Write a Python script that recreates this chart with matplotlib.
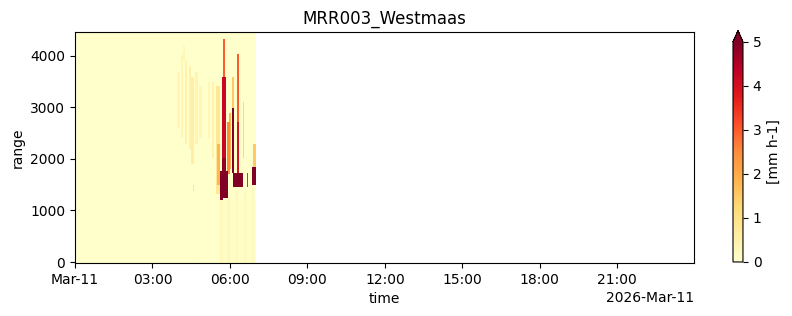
import numpy as np
import matplotlib
matplotlib.use('Agg')
import matplotlib.pyplot as plt
import matplotlib.dates as mdates

# rain features: start/end hour, bottom/top range [m], rate [mm h-1]
feat_t0 = [3.95, 4.10, 4.25, 4.40, 4.50, 4.65, 4.80, 4.20,
           4.55, 4.57,
           5.15, 5.30, 5.45, 5.50,
           5.73, 5.70, 5.70, 5.62, 5.62, 5.90, 5.95,
           6.08, 6.08, 6.12, 6.28, 6.28, 6.30,
           6.65, 6.85, 6.88, 6.50,
           5.50, 5.60, 5.90, 6.20, 6.55, 6.85]
feat_t1 = [4.05, 4.20, 4.35, 4.50, 4.60, 4.75, 4.90, 4.25,
           4.62, 4.60,
           5.22, 5.38, 5.62, 5.62,
           5.82, 5.85, 5.85, 5.93, 5.75, 5.98, 6.05,
           6.16, 6.16, 6.51, 6.36, 6.36, 6.34,
           6.70, 7.00, 7.00, 6.55,
           7.00, 5.75, 6.00, 6.30, 6.65, 6.95]
feat_r0 = [2600, 2400, 2300, 2200, 1900, 2300, 2400, 3900,
           1380, 0,
           2400, 2000, 1300, 1500,
           3600, 2000, 1500, 1250, 1200, 1700, 1800,
           1750, 3000, 1450, 2700, 1750, 3500,
           1450, 1480, 1830, 2000,
           0, 0, 0, 0, 0, 0]
feat_r1 = [3700, 4000, 3900, 3800, 3600, 3700, 3400, 4200,
           1480, 1380,
           3500, 3500, 3400, 2300,
           4330, 3600, 2000, 1780, 1300, 2700, 2900,
           3000, 3600, 1740, 4060, 2700, 4060,
           1720, 1830, 2300, 3100,
           1200, 1200, 1250, 1400, 1400, 1450]
feat_rate = [0.3, 0.35, 0.45, 0.5, 0.6, 0.4, 0.3, 0.3,
             0.9, 0.1,
             0.3, 0.45, 0.8, 1.8,
             3.0, 4.2, 4.8, 6.0, 6.0, 2.5, 1.8,
             5.0, 1.5, 6.0, 3.0, 4.0, 1.0,
             3.5, 6.0, 1.5, 1.2,
             0.08, 0.2, 0.25, 0.2, 0.2, 0.25]

base = np.datetime64('2026-03-11T00:00')
minutes = np.arange(0, 421)  # time edges, 1 min steps up to 07:00
t_edges = base + minutes.astype('timedelta64[m]')
r_edges = np.arange(129) * 35.0 - 17.5

t_mid = (minutes[:-1] + 0.5) / 60.0
r_mid = r_edges[:-1] + 17.5
rr = np.zeros((len(r_mid), len(t_mid)))
for i in range(len(feat_rate)):
    tm = (t_mid >= feat_t0[i]) & (t_mid < feat_t1[i])
    rm = (r_mid >= feat_r0[i]) & (r_mid < feat_r1[i])
    rr[np.ix_(rm, tm)] = np.maximum(rr[np.ix_(rm, tm)], feat_rate[i])

fig = plt.figure(figsize=(7.92, 3.16), dpi=100)
ax = fig.add_axes([0.0947, 0.168, 0.782, 0.731])
cax = fig.add_axes([0.9255, 0.171, 0.0126, 0.732])

mesh = ax.pcolormesh(t_edges, r_edges, rr, cmap='YlOrRd', vmin=0, vmax=5)
ax.set_xlim(base, base + np.timedelta64(24 * 60 - 1, 'm'))
ax.set_ylim(r_edges[0], r_edges[-1])

loc = mdates.HourLocator(interval=3)
ax.xaxis.set_major_locator(loc)
ax.xaxis.set_major_formatter(mdates.ConciseDateFormatter(loc))

ax.set_xlabel('time')
ax.set_ylabel('range')
ax.set_title('MRR003_Westmaas')

cb = fig.colorbar(mesh, cax=cax, extend='max')
cb.set_label('[mm h-1]')

fig.savefig('out.png', dpi=100)
